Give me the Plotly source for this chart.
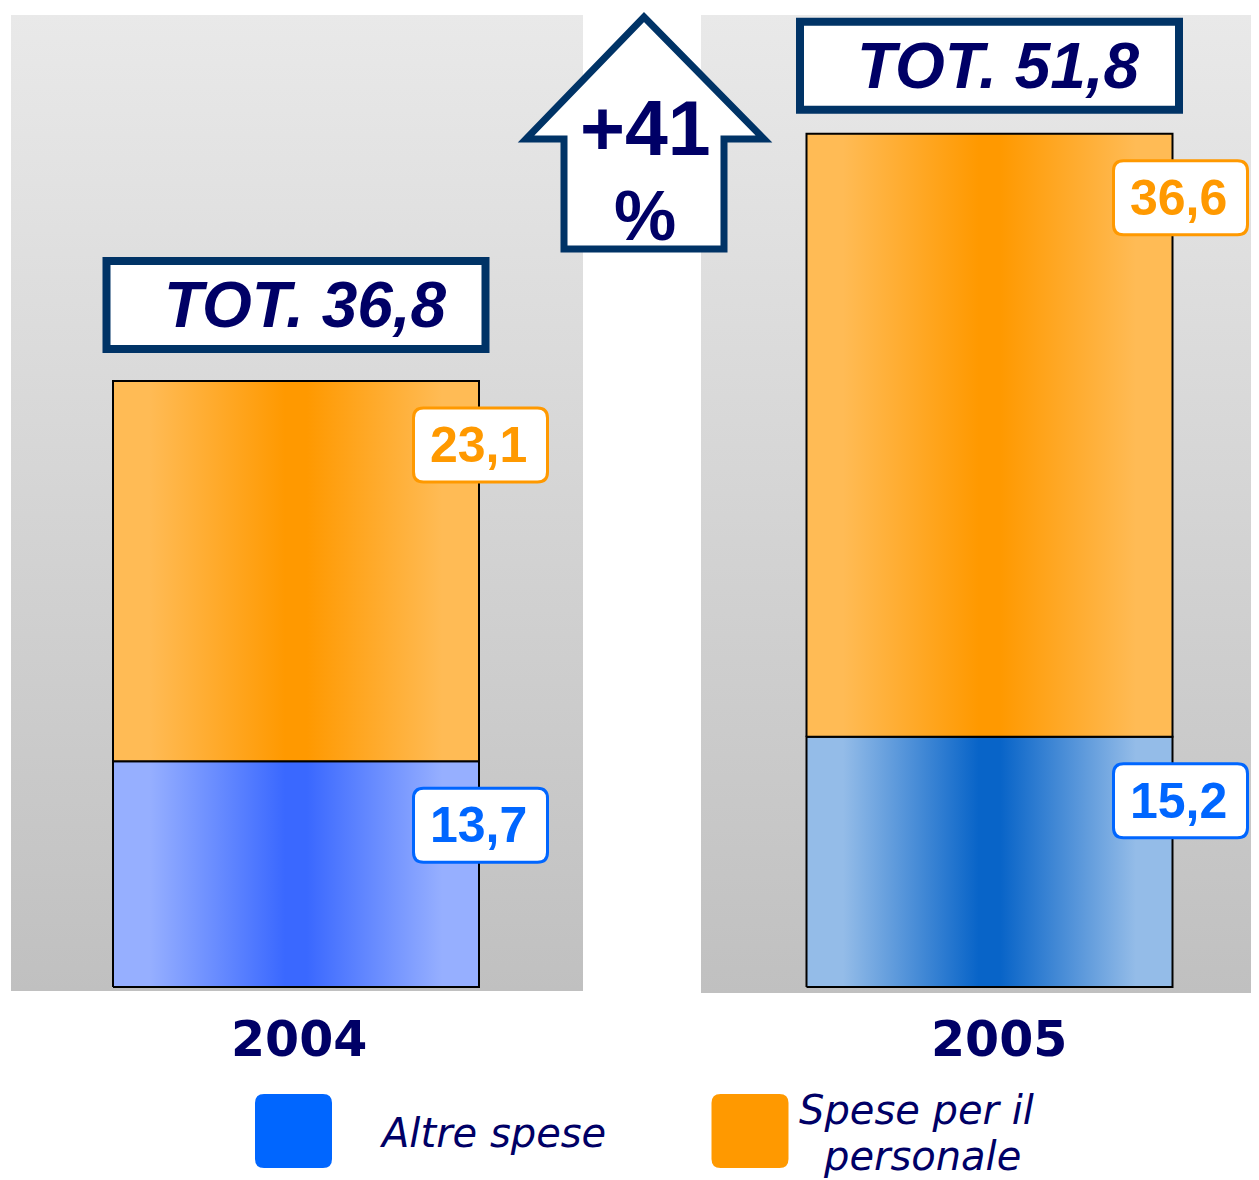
import plotly.graph_objects as go

# ---------------- data ----------------
years = ["2004", "2005"]
altre_spese = [13.7, 15.2]
spese_personale = [23.1, 36.6]
totals = [36.8, 51.8]
growth_pct = "+41"
legend_names = ["Altre spese", "Spese per il personale"]

# ---------------- styles ----------------
PAGE_OFF = 8  # default page margin around the figure
W, H = 1259 - PAGE_OFF, 1180 - PAGE_OFF
NAVY_TXT = "#000066"
NAVY_LINE = "#003366"
ORANGE = "#ff9900"
BLUE = "#0066ff"
blue_grad = [("#96afff", "#3a68ff"), ("#94bce8", "#0864c8")]
orange_grad = [("#ffbb55", "#ff9900"), ("#ffbb55", "#ff9900")]

# axis calibration (screen pixel of value 0 and pixels per unit)
X0_PX, KX = 296.0, 693.5
Y0_PX, KY = 987.0, 16.47
xr = [(0 - (X0_PX - PAGE_OFF)) / KX, (W - (X0_PX - PAGE_OFF)) / KX]
yr = [((Y0_PX - PAGE_OFF) - H) / KY, (Y0_PX - PAGE_OFF) / KY]


def xd(px):
    return (px - X0_PX) / KX


def yd(py):
    return (Y0_PX - py) / KY


def dxu(px):
    return px / KX


def dyu(px):
    return px / KY


def pxp(px):
    return (px - PAGE_OFF) / W


def pyp(py):
    return 1 - (py - PAGE_OFF) / H


def rrect_path(l, r, b, t, rx, ry):
    return (f"M {l+rx},{t} L {r-rx},{t} Q {r},{t} {r},{t-ry} L {r},{b+ry} "
            f"Q {r},{b} {r-rx},{b} L {l+rx},{b} Q {l},{b} {l},{b+ry} "
            f"L {l},{t-ry} Q {l},{t} {l+rx},{t} Z")


def hgrad(edge, center):
    return [[0, edge], [0.1, edge], [0.47, center], [0.53, center], [0.9, edge], [1, edge]]


fig = go.Figure()

# ---------------- background panels ----------------
panels = [(11, 583, 15, 991), (701, 1280, 15, 993)]
for (l, r, t, b) in panels:
    fig.add_trace(go.Scatter(
        x=[xd(l), xd(r), xd(r), xd(l), xd(l)],
        y=[yd(b), yd(b), yd(t), yd(t), yd(b)],
        mode="lines", fill="toself", line=dict(width=0),
        fillgradient=dict(type="vertical",
                          colorscale=[[0, "#c0c0c0"], [1, "#e9e9e9"]],
                          start=yd(b), stop=yd(t)),
        hoverinfo="skip", showlegend=False))

# ---------------- bars ----------------
HALF_W = dxu(183)
for i in range(len(years)):
    c = i
    segs = [(0, altre_spese[i], blue_grad[i]),
            (altre_spese[i], altre_spese[i] + spese_personale[i], orange_grad[i])]
    for (y0, y1, (edge, center)) in segs:
        fig.add_trace(go.Scatter(
            x=[c - HALF_W, c + HALF_W, c + HALF_W, c - HALF_W, c - HALF_W],
            y=[y0, y0, y1, y1, y0],
            mode="lines", fill="toself",
            line=dict(color="#000000", width=2),
            fillgradient=dict(type="horizontal", colorscale=hgrad(edge, center),
                              start=c - HALF_W, stop=c + HALF_W),
            hoverinfo="skip", showlegend=False))

shapes = []
annotations = []


def fmt(v):
    return f"{v:.1f}".replace(".", ",")


# ---------------- value labels ----------------
label_dx = [1.5, 8]
for i in range(len(years)):
    cx = i + HALF_W + dxu(label_dx[i])
    items = [(altre_spese[i], altre_spese[i], BLUE),
             (altre_spese[i] + spese_personale[i], spese_personale[i], ORANGE)]
    for (top, val, col) in items:
        cy = top - dyu(64)
        hw, hh = dxu(67), dyu(37)
        shapes.append(dict(type="path", xref="x", yref="y",
                           path=rrect_path(cx - hw, cx + hw, cy - hh, cy + hh, dxu(10), dyu(10)),
                           fillcolor="white", line=dict(color=col, width=3), layer="above"))
        annotations.append(dict(x=cx - dxu(2), y=cy, xref="x", yref="y", text=fmt(val),
                                showarrow=False, xanchor="center", yanchor="middle",
                                font=dict(family="Liberation Sans", size=50, color=col, weight="bold")))

# ---------------- TOT boxes and year labels ----------------
tot_dy = [76, 68]
year_dx = [2.5, 9]
for i in range(len(years)):
    cy = totals[i] + dyu(tot_dy[i])
    shapes.append(dict(type="rect", xref="x", yref="y",
                       x0=i - dxu(189.5), x1=i + dxu(189.5),
                       y0=cy - dyu(44), y1=cy + dyu(44),
                       fillcolor="white", line=dict(color=NAVY_LINE, width=8), layer="above"))
    annotations.append(dict(x=i + dxu(9), y=cy, xref="x", yref="y",
                            text=f"TOT. {fmt(totals[i])}", showarrow=False,
                            xanchor="center", yanchor="middle",
                            font=dict(family="Liberation Sans", size=64, color=NAVY_TXT,
                                      weight="bold", style="italic")))
    annotations.append(dict(x=i + dxu(year_dx[i]), y=yd(1039), xref="x", yref="y",
                            text=years[i], showarrow=False,
                            xanchor="center", yanchor="middle",
                            font=dict(family="DejaVu Sans", size=49, color=NAVY_TXT, weight="bold")))

# ---------------- growth arrow ----------------
pts = [(644, 17), (764, 139), (724, 139), (724, 249), (564, 249), (564, 139), (526, 139)]
arrow_path = "M " + " L ".join(f"{pxp(x)},{pyp(y)}" for x, y in pts) + " Z"
shapes.append(dict(type="path", xref="paper", yref="paper", path=arrow_path,
                   fillcolor="white", line=dict(color=NAVY_LINE, width=7), layer="above"))
annotations.append(dict(x=pxp(645), y=pyp(128), xref="paper", yref="paper", text=growth_pct,
                        showarrow=False, xanchor="center", yanchor="middle",
                        font=dict(family="Liberation Sans", size=77, color=NAVY_TXT, weight="bold")))
annotations.append(dict(x=pxp(645), y=pyp(216), xref="paper", yref="paper", text="%",
                        showarrow=False, xanchor="center", yanchor="middle",
                        font=dict(family="Liberation Sans", size=70, color=NAVY_TXT, weight="bold")))

# ---------------- legend ----------------
LEG_FONT = dict(family="DejaVu Sans", size=40, color=NAVY_TXT, style="italic")
leg_sw = [(293.5, BLUE), (750, ORANGE)]
for (sx, col) in leg_sw:
    l, r, t, b = sx - 38.5, sx + 38.5, 1094, 1168
    shapes.append(dict(type="path", xref="paper", yref="paper",
                       path=rrect_path(pxp(l), pxp(r), pyp(b), pyp(t), 9 / W, 9 / H),
                       fillcolor=col, line=dict(width=0), layer="above"))

annotations.append(dict(x=pxp(492), y=pyp(1133), xref="paper", yref="paper", text=legend_names[0],
                        showarrow=False, xanchor="center", yanchor="middle", font=LEG_FONT))
words = legend_names[1].split(" ")
leg_lines = [" ".join(words[:3]), " ".join(words[3:])]
for txt, (lx, ly) in zip(leg_lines, [(916, 1110), (922, 1156)]):
    annotations.append(dict(x=pxp(lx), y=pyp(ly), xref="paper", yref="paper", text=txt,
                            showarrow=False, xanchor="center", yanchor="middle", font=LEG_FONT))

fig.update_layout(
    width=W, height=H,
    margin=dict(l=0, r=0, t=0, b=0),
    paper_bgcolor="white", plot_bgcolor="white",
    xaxis=dict(range=xr, visible=False, fixedrange=True),
    yaxis=dict(range=yr, visible=False, fixedrange=True),
    shapes=shapes, annotations=annotations,
    showlegend=False,
)

fig.write_html("out.html")
